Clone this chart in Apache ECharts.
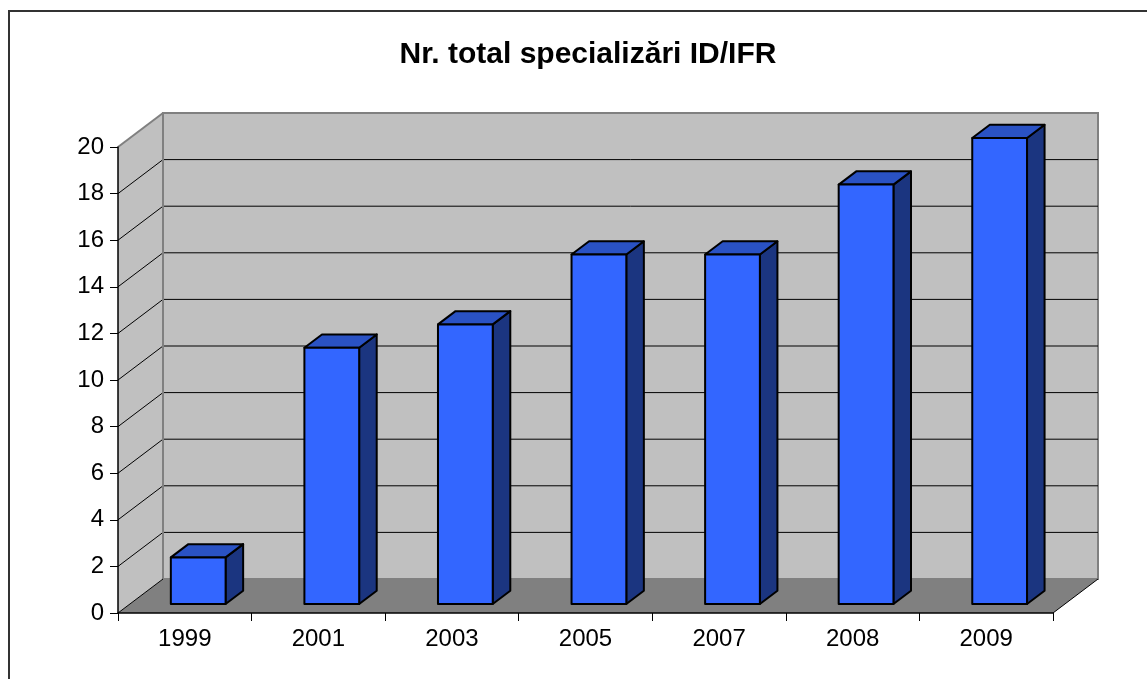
<!DOCTYPE html>
<html>
<head>
<meta charset="utf-8">
<script src="https://cdn.jsdelivr.net/npm/echarts@6/dist/echarts.min.js"></script>
<style>
html,body{margin:0;padding:0;background:#fff;}
#chart{width:1147px;height:679px;}
</style>
</head>
<body>
<div id="chart"></div>
<script>
const titleText = 'Nr. total specializări ID/IFR';
const categories = ['1999', '2001', '2003', '2005', '2007', '2008', '2009'];
const values = [2, 11, 12, 15, 15, 18, 20];
const yTicks = [0, 2, 4, 6, 8, 10, 12, 14, 16, 18, 20];

const DX = 45, DY = -34;          // depth offset of back wall
const F1 = 0.265, F2 = 0.655;     // bar front/back depth fractions
const FONT = "'Liberation Sans', Arial, sans-serif";

const chart = echarts.init(document.getElementById('chart'), null, {renderer: 'canvas'});

function wallsRender(params, api) {
  const cs = params.coordSys;
  const x0 = cs.x, x1 = cs.x + cs.width, yT = cs.y, yB = cs.y + cs.height;
  const ch = [];
  ch.push({type: 'polygon', shape: {points: [[x0, yB], [x0 + DX, yB + DY], [x0 + DX, yT + DY], [x0, yT]]},
    style: {fill: '#C0C0C0', stroke: null}});
  ch.push({type: 'polygon', shape: {points: [[x0 + DX, yT + DY], [x1 + DX, yT + DY], [x1 + DX, yB + DY], [x0 + DX, yB + DY]]},
    style: {fill: '#C0C0C0', stroke: '#808080', lineWidth: 2}});
  ch.push({type: 'polygon', shape: {points: [[x0, yB], [x1, yB], [x1 + DX, yB + DY], [x0 + DX, yB + DY]]},
    style: {fill: '#808080', stroke: null}});
  for (const v of yTicks) {
    if (v === 0 || v === 20) continue;
    const y = api.coord([0, v])[1];
    ch.push({type: 'line', shape: {x1: x0 + DX, y1: y + DY, x2: x1 + DX, y2: y + DY}, style: {stroke: '#000', lineWidth: 1}});
    ch.push({type: 'line', shape: {x1: x0, y1: y, x2: x0 + DX, y2: y + DY}, style: {stroke: '#000', lineWidth: 1}});
  }
  ch.push({type: 'line', shape: {x1: x0, y1: yT, x2: x0 + DX, y2: yT + DY}, style: {stroke: '#808080', lineWidth: 2}});
  ch.push({type: 'line', shape: {x1: x0 + DX, y1: yT + DY, x2: x0 + DX, y2: yB + DY}, style: {stroke: '#808080', lineWidth: 2}});
  ch.push({type: 'line', shape: {x1: x0 + DX, y1: yB + DY, x2: x1 + DX, y2: yB + DY}, style: {stroke: '#808080', lineWidth: 2}});
  ch.push({type: 'line', shape: {x1: x0, y1: yB, x2: x0 + DX, y2: yB + DY}, style: {stroke: '#000', lineWidth: 1}});
  ch.push({type: 'line', shape: {x1: x1, y1: yB, x2: x1 + DX, y2: yB + DY}, style: {stroke: '#000', lineWidth: 1}});
  return {type: 'group', children: ch};
}

function barRender(params, api) {
  const idx = api.value(0), val = api.value(1);
  const top = api.coord([idx, val]);
  const base = api.coord([idx, 0]);
  const bw = api.size([1, 0])[0];
  const w = bw * 0.41;
  const cx = top[0] + 1.5;
  const L1 = cx - w / 2 + DX * F1, R1 = cx + w / 2 + DX * F1;
  const T1 = top[1] + DY * F1, B1 = base[1] + DY * F1;
  const L2 = cx - w / 2 + DX * F2, R2 = cx + w / 2 + DX * F2;
  const T2 = top[1] + DY * F2, B2 = base[1] + DY * F2;
  const st = {stroke: '#000', lineWidth: 2, lineJoin: 'round'};
  return {type: 'group', children: [
    {type: 'polygon', shape: {points: [[R1, T1], [R2, T2], [R2, B2], [R1, B1]]}, style: Object.assign({fill: '#1B3580'}, st)},
    {type: 'polygon', shape: {points: [[L1, T1], [R1, T1], [R2, T2], [L2, T2]]}, style: Object.assign({fill: '#2A52C4'}, st)},
    {type: 'rect', shape: {x: L1, y: T1, width: R1 - L1, height: B1 - T1}, style: Object.assign({fill: '#3366FF'}, st)}
  ]};
}

chart.setOption({
  animation: false,
  backgroundColor: '#fff',
  title: {
    text: titleText, left: 583, top: 35, textAlign: 'center',
    textStyle: {fontFamily: FONT, fontSize: 30, fontWeight: 'bold', color: '#000'}
  },
  graphic: [{type: 'rect', shape: {x: 9, y: 11, width: 1200, height: 800}, style: {fill: null, stroke: '#333', lineWidth: 2}, silent: true, z: 100}],
  grid: {left: 118, right: 94, top: 147, bottom: 66, containLabel: false},
  xAxis: {
    type: 'category', data: categories, boundaryGap: true, z: 10,
    axisLine: {show: true, lineStyle: {color: '#000', width: 1.5}},
    axisTick: {show: true, length: 8, lineStyle: {color: '#000', width: 1}},
    axisLabel: {fontFamily: FONT, fontSize: 24, color: '#000', margin: 14},
    splitLine: {show: false}
  },
  yAxis: {
    type: 'value', min: 0, max: 20, interval: 2, z: 10,
    axisLine: {show: true, lineStyle: {color: '#000', width: 1.5}},
    axisTick: {show: true, length: 8, lineStyle: {color: '#000', width: 1}},
    axisLabel: {fontFamily: FONT, fontSize: 24, color: '#000', margin: 14},
    splitLine: {show: false}
  },
  series: [
    {type: 'custom', renderItem: wallsRender, data: [[0, 0]], z: 1, silent: true},
    {type: 'custom', renderItem: barRender, data: values.map((v, i) => [i, v]), z: 3,
      encode: {x: 0, y: 1}}
  ]
});
</script>
</body>
</html>
